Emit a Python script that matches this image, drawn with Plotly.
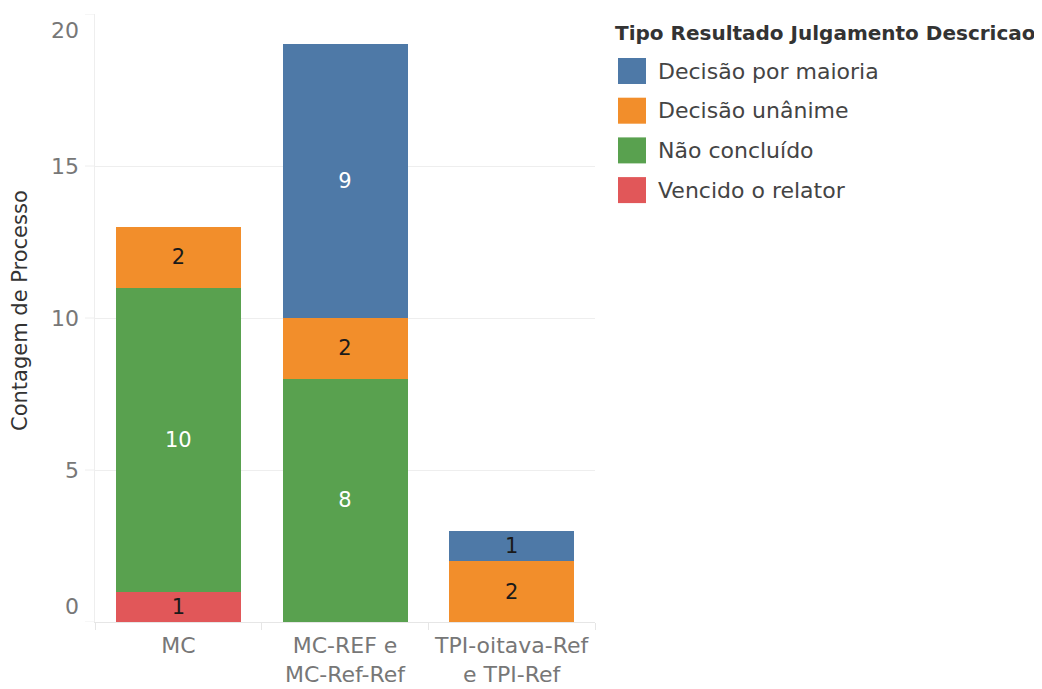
import plotly.graph_objects as go

# ---- data ----
categories = ["MC", "MC-REF e MC-Ref-Ref", "TPI-oitava-Ref e TPI-Ref"]
tick_labels = ["MC", "MC-REF e<br>MC-Ref-Ref", "TPI-oitava-Ref<br>e TPI-Ref"]
vencido_relator = [1, None, None]
nao_concluido = [10, 8, None]
decisao_unanime = [2, 2, 2]
decisao_maioria = [None, 9, 1]
y_ticks = [0, 5, 10, 15, 20]
legend_title = "Tipo Resultado Julgamento Descricao"
y_title = "Contagem de Processo"

# ---- styles ----
FONT = "DejaVu Sans"
W, H = 1042, 689
OFF = 8  # page body margin
L, R, T, B = 95 - OFF, 595 - OFF, 14 - OFF, 622 - OFF  # plot area in figure pixels

series = [
    ("Vencido o relator", vencido_relator, "#E15759", ["#1a1a1a"] * 3),
    ("Não concluído", nao_concluido, "#59A14F", ["#ffffff"] * 3),
    ("Decisão unânime", decisao_unanime, "#F28E2B", ["#1a1a1a"] * 3),
    ("Decisão por maioria", decisao_maioria, "#4E79A7", ["#ffffff", "#ffffff", "#1a1a1a"]),
]
legend_order = ["Decisão por maioria", "Decisão unânime", "Não concluído", "Vencido o relator"]

fig = go.Figure()
for name, vals, col, tcols in series:
    fig.add_trace(go.Bar(
        x=categories, y=vals, name=name,
        marker=dict(color=col, line=dict(width=0)),
        text=[str(v) if v is not None else "" for v in vals],
        textposition="inside", insidetextanchor="middle",
        textangle=0, constraintext="none",
        textfont=dict(family=FONT, size=21, color=tcols),
        showlegend=False, hoverinfo="x+y+name",
    ))


def px(x):  # page pixel -> paper x
    return (x - OFF - L) / (R - L)


def py(y):  # page pixel -> paper y
    return (B - (y - OFF)) / (B - T)


annotations = []
shapes = []

for v in y_ticks:
    shift = 0
    if v == y_ticks[0]:
        shift = 16
    elif v == y_ticks[-1]:
        shift = -16
    annotations.append(dict(
        x=0, xref="paper", xshift=-14, xanchor="right",
        y=v, yref="y", yshift=shift, yanchor="middle",
        text=str(v), showarrow=False,
        font=dict(family=FONT, size=22, color="#777777"),
    ))

annotations.append(dict(
    x=px(20), xref="paper", xanchor="center",
    y=py(311), yref="paper", yanchor="middle", textangle=-90,
    text=y_title, showarrow=False,
    font=dict(family=FONT, size=21, color="#333333"),
))

annotations.append(dict(
    x=px(613), xref="paper", xanchor="left",
    y=py(33), yref="paper", yanchor="middle",
    text=legend_title, showarrow=False,
    font=dict(family=FONT, size=20, color="#333333", weight=600),
))
colour_of = {s[0]: s[2] for s in series}
for i, name in enumerate(legend_order):
    cy = 71 + i * 39.7
    shapes.append(dict(
        type="rect", xref="paper", yref="paper",
        x0=px(618), x1=px(646), y0=py(cy - 13), y1=py(cy + 13),
        fillcolor=colour_of[name], line=dict(width=0),
    ))
    annotations.append(dict(
        x=px(656), xref="paper", xanchor="left",
        y=py(cy), yref="paper", yanchor="middle",
        text=name, showarrow=False,
        font=dict(family=FONT, size=22, color="#444444"),
    ))

for v in y_ticks:
    shapes.append(dict(
        type="line", xref="paper", yref="y",
        x0=px(85), x1=0, y0=v, y1=v,
        line=dict(color="#eeeeee", width=1),
    ))

fig.update_layout(
    width=W, height=H,
    margin=dict(l=L, r=W - R, t=T, b=H - B, pad=0),
    barmode="stack", bargap=0.25,
    plot_bgcolor="white", paper_bgcolor="white",
    font=dict(family=FONT, size=22, color="#666666"),
    annotations=annotations, shapes=shapes,
    xaxis=dict(
        type="category", tickmode="array", tickvals=categories, ticktext=tick_labels,
        tickson="boundaries", ticks="outside", ticklen=7, tickcolor="#e6e6e6",
        ticklabelstandoff=4,
        showline=True, linecolor="#e6e6e6", linewidth=1,
        showgrid=False, tickfont=dict(family=FONT, size=22, color="#777777"),
        fixedrange=True,
    ),
    yaxis=dict(
        range=[0, 20], tickvals=y_ticks, showticklabels=False,
        showgrid=True, gridcolor="#eeeeee", gridwidth=1,
        zeroline=False, showline=True, linecolor="#eeeeee", linewidth=1,
        ticks="", fixedrange=True,
    ),
)

fig.write_html("out.html")
